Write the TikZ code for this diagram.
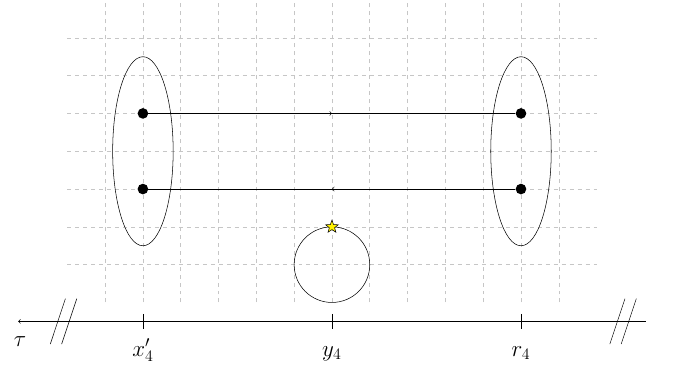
\documentclass[tikz,border=0pt]{standalone}
\usepackage{amsmath,amssymb}
\usetikzlibrary{decorations.markings,shapes.geometric}

\tikzset{
  helpgrid/.style={gray!45,dashed},
  blob/.style={circle,fill,inner sep=0pt,minimum size=8pt},
  midarrow/.style={postaction={decorate},
    decoration={markings,mark=at position 0.5 with {\arrow{>}}}},
  ticklabel/.style={anchor=base,inner sep=0pt,font=\LARGE},
}

\begin{document}
\begin{tikzpicture}
\useasboundingbox (-3.78,-1.72) rectangle (14.1,8);
\foreach \x in {-1,...,11} \draw[helpgrid](\x,0)--(\x,8);
\foreach \y in {1,...,7} \draw[helpgrid](-2,\y)--(12,\y);
\draw(0,4)ellipse(0.8 and 2.5);
\draw(10,4)ellipse(0.8 and 2.5);
\node[blob](xa) at (0,5){};
\node[blob](xb) at (0,3){};
\node[blob](ra) at (10,5){};
\node[blob](rb) at (10,3){};
\draw[midarrow](xa)--(ra);
\draw[midarrow](rb)--(xb);
\draw(5,1)circle(1);
\node[star,star points=5,star point ratio=2.4,draw,fill=yellow,inner sep=0pt,minimum size=10pt](sy) at (5,2){};
% time axis
\coordinate(tl) at (-3.3,-0.5);
\coordinate(tr) at (13.3,-0.5);
\draw[->](tr)--(tl);
\node[ticklabel](tau) at (-3.25,-1.16){$\tau$};
\foreach \x/\l/\n in {0/x'_4/tx,5/y_4/ty,10/r_4/tr}{
  \draw(\x,-0.3)--(\x,-0.7);
  \node[ticklabel](\n) at (\x,-1.42){$\l$};
}
\foreach \x in {-2.25,-1.95,12.55,12.85}
  \draw(\x-0.2,-1.1)--(\x+0.2,0.1);
\end{tikzpicture}
\end{document}
